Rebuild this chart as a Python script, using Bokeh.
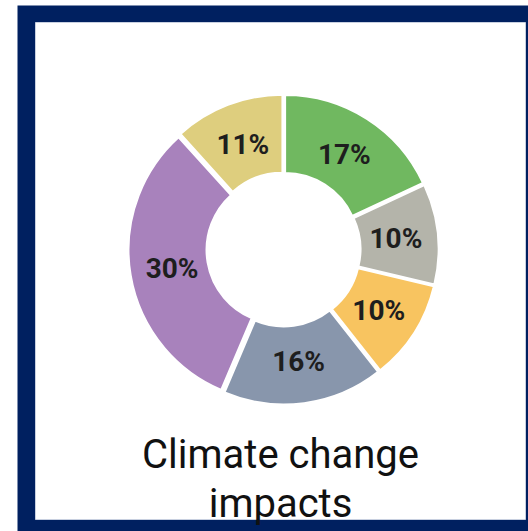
import numpy as np
from bokeh.plotting import figure
from bokeh.models import Range1d, ColumnDataSource
from bokeh.core.properties import value
from bokeh.embed import file_html
from bokeh.resources import INLINE

# ---- data ----
values = [17, 10, 10, 16, 30, 11]
labels = ["17%", "10%", "10%", "16%", "30%", "11%"]
colors = ["#70B860", "#B4B4AA", "#F8C460", "#8896AC", "#A882BC", "#DECE7E"]
title_lines = ["Climate change", "impacts"]

W, H = 528, 531
p = figure(width=W, height=H, output_backend="svg", toolbar_location=None,
           x_range=Range1d(0, W), y_range=Range1d(0, H),
           min_border=0, outline_line_color=None)
p.axis.visible = False
p.grid.visible = False
p.background_fill_color = "white"
p.border_fill_color = "white"

def Y(py):
    return H - py

# frame
p.quad(left=[17], right=[560], top=[Y(5)], bottom=[Y(560)],
       fill_color="#002060", line_color=None)
p.quad(left=[35], right=[525], top=[Y(22)], bottom=[Y(519)],
       fill_color="white", line_color="#C8D0E0", line_width=1)

# donut
cx, cy = 283, Y(249)
r_in, r_out = 74, 152
explode = 3
v = np.array(values, dtype=float)
frac = v / v.sum()
cum = np.concatenate([[0], np.cumsum(frac)])
start = np.pi / 2 - cum[:-1] * 2 * np.pi
end = np.pi / 2 - cum[1:] * 2 * np.pi
mid = (start + end) / 2
src = ColumnDataSource(dict(
    x=cx + explode * np.cos(mid), y=cy + explode * np.sin(mid),
    start=start, end=end, color=colors,
    lx=cx + 113 * np.cos(mid), ly=cy + 113 * np.sin(mid), label=labels))
p.annular_wedge(x="x", y="y", inner_radius=r_in, outer_radius=r_out,
                start_angle="start", end_angle="end", direction="clock",
                fill_color="color", line_color="white", line_width=2, source=src)
p.text(x="lx", y="ly", text="label", source=src, text_align="center",
       text_baseline="middle", text_font=value("Roboto"), text_font_size="28px",
       text_font_style="bold", text_color="#1E1E1E")

# title
p.text(x=[280, 280], y=[Y(454), Y(503)], text=title_lines, text_align="center",
       text_baseline="alphabetic", text_font=value("Roboto"),
       text_font_size="40px", text_color="#111111")

open("out.html", "w").write(file_html(p, INLINE))
